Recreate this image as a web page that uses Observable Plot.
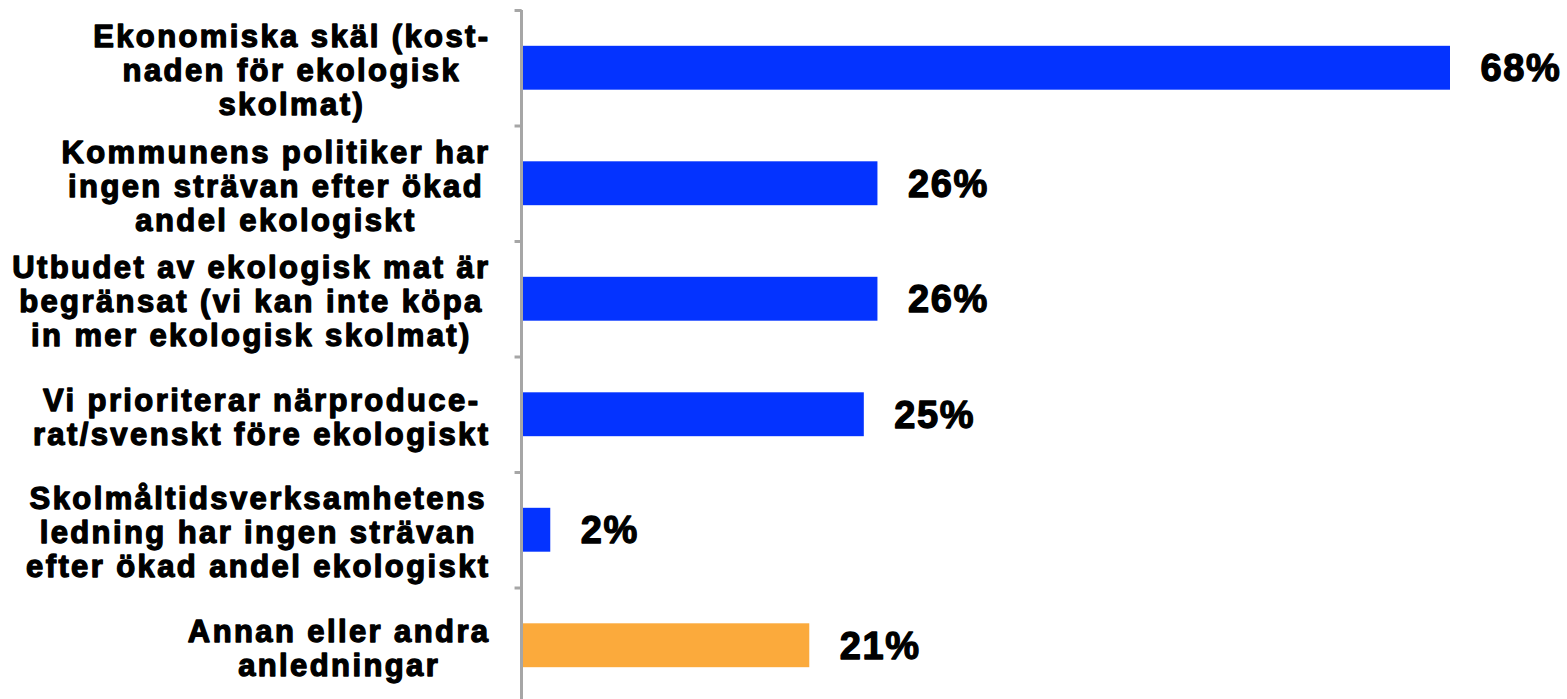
<!DOCTYPE html>
<html>
<head>
<meta charset="utf-8">
<script src="https://cdn.jsdelivr.net/npm/d3@7"></script>
<script src="https://cdn.jsdelivr.net/npm/@observablehq/plot@0.6"></script>
<style>
  html, body { margin: 0; padding: 0; background: #fff; }
  svg { display: block; }
  .lbl text, text.lbl { letter-spacing: 2.4px; }
  .val text, text.val { letter-spacing: 1.6px; }
</style>
</head>
<body>
<div id="chart"></div>
<script>
const categories = [
  "Ekonomiska skäl (kost-\nnaden för ekologisk\nskolmat)",
  "Kommunens politiker har\ningen strävan efter ökad\nandel ekologiskt",
  "Utbudet av ekologisk mat är\nbegränsat (vi kan inte köpa\nin mer ekologisk skolmat)",
  "Vi prioriterar närproduce-\nrat/svenskt före ekologiskt",
  "Skolmåltidsverksamhetens\nledning har ingen strävan\nefter ökad andel ekologiskt",
  "Annan eller andra\nanledningar"
];
const values = [68, 26, 26, 25, 2, 21];
const groups = ["main", "main", "main", "main", "main", "other"];
const valueLabels = ["68%", "26%", "26%", "25%", "2%", "21%"];

const data = categories.map((c, i) => ({cat: c, value: values[i], group: groups[i], label: valueLabels[i]}));

const font = "Liberation Sans, Arial, sans-serif";

const chart = Plot.plot({
  width: 1567,
  height: 699,
  marginTop: 10,
  marginBottom: 0,
  marginLeft: 521,
  marginRight: 0,
  style: {fontFamily: font, background: "#fff"},
  x: {domain: [0, 68], range: [523, 1450], axis: null},
  y: {domain: categories, range: [10, 703], paddingInner: 0.62, paddingOuter: 0.31, round: false, axis: null},
  color: {domain: ["main", "other"], range: ["#0433FF", "#FBAA3C"]},
  marks: [
    Plot.barX(data, {y: "cat", x: "value", fill: "group"}),
    Plot.ruleX([0], {stroke: "#a6a6a6", strokeWidth: 3, dx: -2}),
    Plot.ruleY(data, {y: "cat", x1: -0.62, x2: -0.1, dy: -57.75, stroke: "#a6a6a6", strokeWidth: 3}),
    Plot.text(data, {
      y: "cat", x: 0, text: "cat", dx: -33, dy: 2, textAnchor: "end",
      fontSize: 31, fontWeight: "bold", lineHeight: 1.1, fill: "#000",
      stroke: "#000", strokeWidth: 1.3, className: "lbl"
    }),
    Plot.text(data, {
      y: "cat", x: "value", text: "label", dx: 30, dy: 1, textAnchor: "start",
      fontSize: 38, fontWeight: "bold", fill: "#000",
      stroke: "#000", strokeWidth: 1.3, className: "val"
    })
  ]
});
document.getElementById("chart").appendChild(chart);

// center multi-line labels within their block (block right edge kept in place)
chart.querySelectorAll("g.lbl text, text.lbl").forEach(t => {
  const bb = t.getBBox();
  const right = bb.x + bb.width;
  t.setAttribute("text-anchor", "middle");
  t.querySelectorAll("tspan").forEach(s => s.setAttribute("text-anchor", "middle"));
  const tr = t.getAttribute("transform") || "";
  t.setAttribute("transform", tr + ` translate(${right - bb.width / 2},0)`);
});
</script>
</body>
</html>
